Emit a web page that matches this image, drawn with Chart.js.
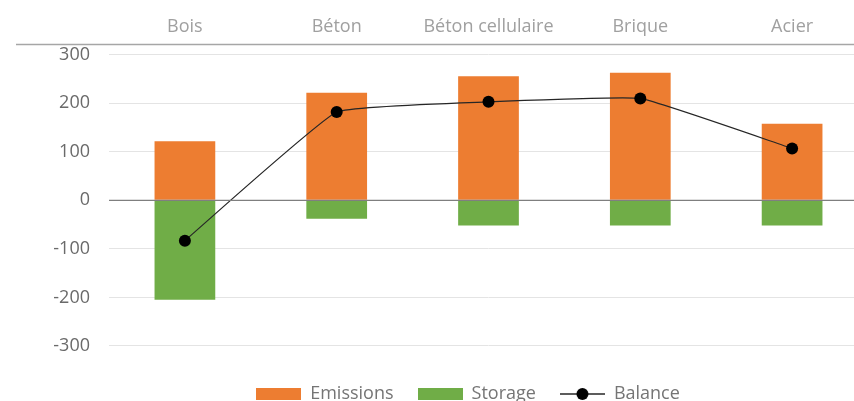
<!DOCTYPE html>
<html>
<head>
<meta charset="utf-8">
<script src="https://cdn.jsdelivr.net/npm/chart.js@4/dist/chart.umd.min.js"></script>
<style>
html, body { margin: 0; padding: 0; background: #fff; overflow: hidden; }
#wrap { width: 854px; height: 401px; overflow: hidden; }
</style>
</head>
<body>
<div id="wrap"><canvas id="chart" width="936" height="413"></canvas></div>
<script>
var categories = ['Bois', 'Béton', 'Béton cellulaire', 'Brique', 'Acier'];
var emissions = [122, 222, 256, 263, 158];
var storage = [-205, -38, -52, -52, -52];
var balance = [-83, 182, 203, 210, 107];
var yTicks = [-300, -200, -100, 0, 100, 200, 300];

var fontFamily = '"Open Sans", sans-serif';

function swatch(kind, color) {
    var c = document.createElement('canvas')
    c.width = 45
    c.height = 14
    var g = c.getContext('2d')
    if (kind == 'box') {
        g.fillStyle = color
        g.fillRect(0, 1, 45, 12)
    } else {
        g.strokeStyle = '#262626'
        g.lineWidth = 1.3
        g.beginPath(); g.moveTo(0, 7); g.lineTo(45, 7); g.stroke()
        g.fillStyle = '#000'
        g.beginPath(); g.arc(22.5, 7, 6, 0, 2 * Math.PI); g.fill()
    }
    return c
}
var swatches = [swatch('box', '#ED7D31'), swatch('box', '#70AD47'), swatch('line')];

// axis line at zero and the long line under the category labels
var axisLines = {
    id: 'axisLines',
    afterDatasetsDraw: function (chart) {
        var ctx = chart.ctx, area = chart.chartArea
        var y0 = chart.scales.y.getPixelForValue(0)
        ctx.save()
        ctx.strokeStyle = '#7f7f7f'
        ctx.lineWidth = 1.3
        ctx.beginPath(); ctx.moveTo(area.left, y0); ctx.lineTo(area.right, y0); ctx.stroke()
        ctx.strokeStyle = '#a6a6a6'
        ctx.lineWidth = 1.5
        ctx.beginPath(); ctx.moveTo(16, area.top); ctx.lineTo(area.right, area.top); ctx.stroke()
        ctx.restore()
    }
};

var ctx = document.getElementById('chart').getContext('2d');
var chart = new Chart(ctx, {
    type: 'bar',
    data: {
        labels: categories,
        datasets: [{
            label: 'Emissions',
            data: emissions,
            backgroundColor: '#ED7D31',
            stack: 'bars',
            order: 1,
            barPercentage: 0.4,
            categoryPercentage: 1
        }, {
            label: 'Storage',
            data: storage,
            backgroundColor: '#70AD47',
            stack: 'bars',
            order: 1,
            barPercentage: 0.4,
            categoryPercentage: 1
        }, {
            type: 'line',
            label: 'Balance',
            data: balance,
            stack: 'line',
            order: 0,
            borderColor: '#262626',
            borderWidth: 1.2,
            tension: 0.1,
            pointRadius: 6,
            pointBackgroundColor: '#000',
            pointBorderColor: '#000',
            pointBorderWidth: 0
        }]
    },
    options: {
        responsive: false,
        animation: false,
        layout: { padding: { top: 9, left: 0, right: 0, bottom: 0 } },
        plugins: {
            tooltip: { enabled: false },
            legend: {
                position: 'bottom',
                labels: {
                    usePointStyle: true,
                    pointStyleWidth: 45,
                    boxHeight: 12,
                    padding: 24,
                    color: '#757575',
                    font: { family: fontFamily, size: 18 },
                    generateLabels: function (chart) {
                        return chart.data.datasets.map(function (ds, i) {
                            return {
                                text: ds.label,
                                pointStyle: swatches[i],
                                fillStyle: 'transparent',
                                strokeStyle: 'transparent',
                                lineWidth: 0,
                                hidden: false,
                                datasetIndex: i,
                                fontColor: '#757575'
                            }
                        })
                    }
                }
            }
        },
        scales: {
            x: {
                position: 'top',
                stacked: true,
                grid: { display: false, drawTicks: false },
                border: { display: false },
                ticks: { color: '#a0a0a0', padding: 7, font: { family: fontFamily, size: 18 } }
            },
            y: {
                stacked: true,
                min: -331,
                max: 321,
                afterBuildTicks: function (s) {
                    s.ticks = yTicks.map(function (v) { return { value: v } })
                },
                afterFit: function (s) { s.width = 109 },
                grid: { color: '#e4e4e4', lineWidth: 1, drawTicks: false },
                border: { display: false },
                ticks: { color: '#6a6a6a', padding: 19, font: { family: fontFamily, size: 18 } }
            },
            y2: {
                type: 'linear',
                position: 'right',
                afterFit: function (s) { s.width = 68 },
                grid: { display: false },
                border: { display: false },
                ticks: { display: false }
            }
        }
    },
    plugins: [axisLines]
});
</script>
</body>
</html>
